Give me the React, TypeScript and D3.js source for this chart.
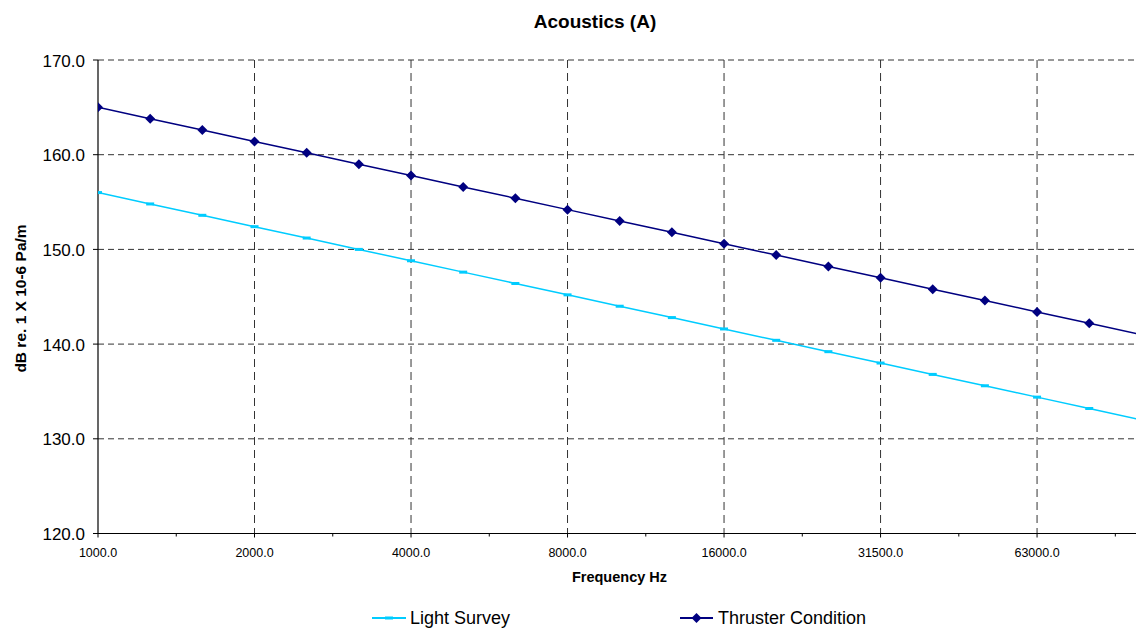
import React from 'react';
import * as d3 from 'd3';

// third-octave bands, 1 kHz up
const frequencies = [
  1000, 1250, 1600, 2000, 2500, 3150, 4000, 5000, 6300, 8000, 10000,
  12500, 16000, 20000, 25000, 31500, 40000, 50000, 63000, 80000, 100000,
];
const lightSurvey = [
  156.0, 154.8, 153.6, 152.4, 151.2, 150.0, 148.8, 147.6, 146.4, 145.2, 144.0,
  142.8, 141.6, 140.4, 139.2, 138.0, 136.8, 135.6, 134.4, 133.2, 132.0,
];
const thrusterCondition = [
  165.0, 163.8, 162.6, 161.4, 160.2, 159.0, 157.8, 156.6, 155.4, 154.2, 153.0,
  151.8, 150.6, 149.4, 148.2, 147.0, 145.8, 144.6, 143.4, 142.2, 141.0,
];
const xTickLabels = ['1000.0', '2000.0', '4000.0', '8000.0', '16000.0', '31500.0', '63000.0'];
const yTicks = [120, 130, 140, 150, 160, 170];

const W = 1136;
const H = 628;
const left = 98;
const top = 60;
const bottom = 533.5;
const step = 52.17; // px per third-octave band

const App = () => {
  const x = d3.scaleLinear().domain([0, 1]).range([left, left + step]);
  const y = d3.scaleLinear().domain([120, 170]).range([bottom, top]);
  const majorIdx = xTickLabels.map((_, k) => k * 3);
  const minorIdx = xTickLabels.map((_, k) => k * 3 + 1.5);

  const pathOf = (vals: number[]) =>
    d3
      .line<number>()
      .x((_, i) => x(i))
      .y(v => y(v))(vals) || '';

  const light = '#00CCFF';
  const navy = '#000080';
  const diamond = (cx: number, cy: number, r: number) =>
    `M${cx},${cy - r}L${cx + r},${cy}L${cx},${cy + r}L${cx - r},${cy}Z`;

  return (
    <svg
      width={W}
      height={H}
      style={{ position: 'absolute', left: 0, top: 0, background: '#fff' }}
      fontFamily="Arial, 'Liberation Sans', sans-serif"
    >
      <defs>
        <clipPath id="plot">
          <rect x={left} y={top - 10} width={W - left} height={bottom - top + 20} />
        </clipPath>
      </defs>
      <text x={595} y={27.5} textAnchor="middle" fontSize={19} fontWeight="bold">
        Acoustics (A)
      </text>

      {/* grid */}
      {yTicks.slice(1).map(t => (
        <line
          key={'gy' + t}
          x1={left}
          x2={W}
          y1={y(t)}
          y2={y(t)}
          stroke="#333"
          strokeWidth={1}
          strokeDasharray="6,4"
        />
      ))}
      {majorIdx.slice(1).map(i => (
        <line
          key={'gx' + i}
          x1={x(i)}
          x2={x(i)}
          y1={top}
          y2={bottom}
          stroke="#333"
          strokeWidth={1}
          strokeDasharray="8,5"
        />
      ))}

      {/* axes */}
      <line x1={left} x2={left} y1={top} y2={bottom} stroke="#000" strokeWidth={1.2} />
      <line x1={left} x2={W} y1={bottom} y2={bottom} stroke="#000" strokeWidth={1.2} />
      {yTicks.map(t => (
        <g key={'yt' + t}>
          <line x1={left - 5} x2={left} y1={y(t)} y2={y(t)} stroke="#000" />
          <text x={85} y={y(t) + 6.5} textAnchor="end" fontSize={17}>
            {t.toFixed(1)}
          </text>
        </g>
      ))}
      {majorIdx.map((i, k) => (
        <g key={'xt' + i}>
          <line x1={x(i)} x2={x(i)} y1={bottom} y2={bottom + 4} stroke="#000" />
          <text x={x(i)} y={557} textAnchor="middle" fontSize={12.5}>
            {xTickLabels[k]}
          </text>
        </g>
      ))}
      {minorIdx.map(i => (
        <line key={'mx' + i} x1={x(i)} x2={x(i)} y1={bottom} y2={bottom + 3} stroke="#000" />
      ))}
      <text x={619.5} y={582} textAnchor="middle" fontSize={14.5} fontWeight="bold">
        Frequency Hz
      </text>
      <text
        transform={`translate(26,298.5) rotate(-90)`}
        textAnchor="middle"
        fontSize={15.5}
        fontWeight="bold"
      >
        dB re. 1 X 10-6 Pa/m
      </text>

      {/* series */}
      <g clipPath="url(#plot)">
        <path d={pathOf(lightSurvey)} fill="none" stroke={light} strokeWidth={1.5} />
        {lightSurvey.map((v, i) => (
          <rect key={'l' + i} x={x(i) - 4} y={y(v) - 1.5} width={8} height={3} fill={light} />
        ))}
        <path d={pathOf(thrusterCondition)} fill="none" stroke={navy} strokeWidth={1.5} />
        {thrusterCondition.map((v, i) => (
          <path key={'t' + i} d={diamond(x(i), y(v), 5)} fill={navy} />
        ))}
      </g>

      {/* legend */}
      <line x1={372} x2={406} y1={618} y2={618} stroke={light} strokeWidth={2} />
      <rect x={385} y={616.5} width={8} height={3} fill={light} />
      <text x={410} y={624} fontSize={18}>
        Light Survey
      </text>
      <line x1={680} x2={713} y1={618} y2={618} stroke={navy} strokeWidth={2} />
      <path d={diamond(696.5, 618, 5)} fill={navy} />
      <text x={718} y={624} fontSize={18}>
        Thruster Condition
      </text>
    </svg>
  );
};

export default App;
